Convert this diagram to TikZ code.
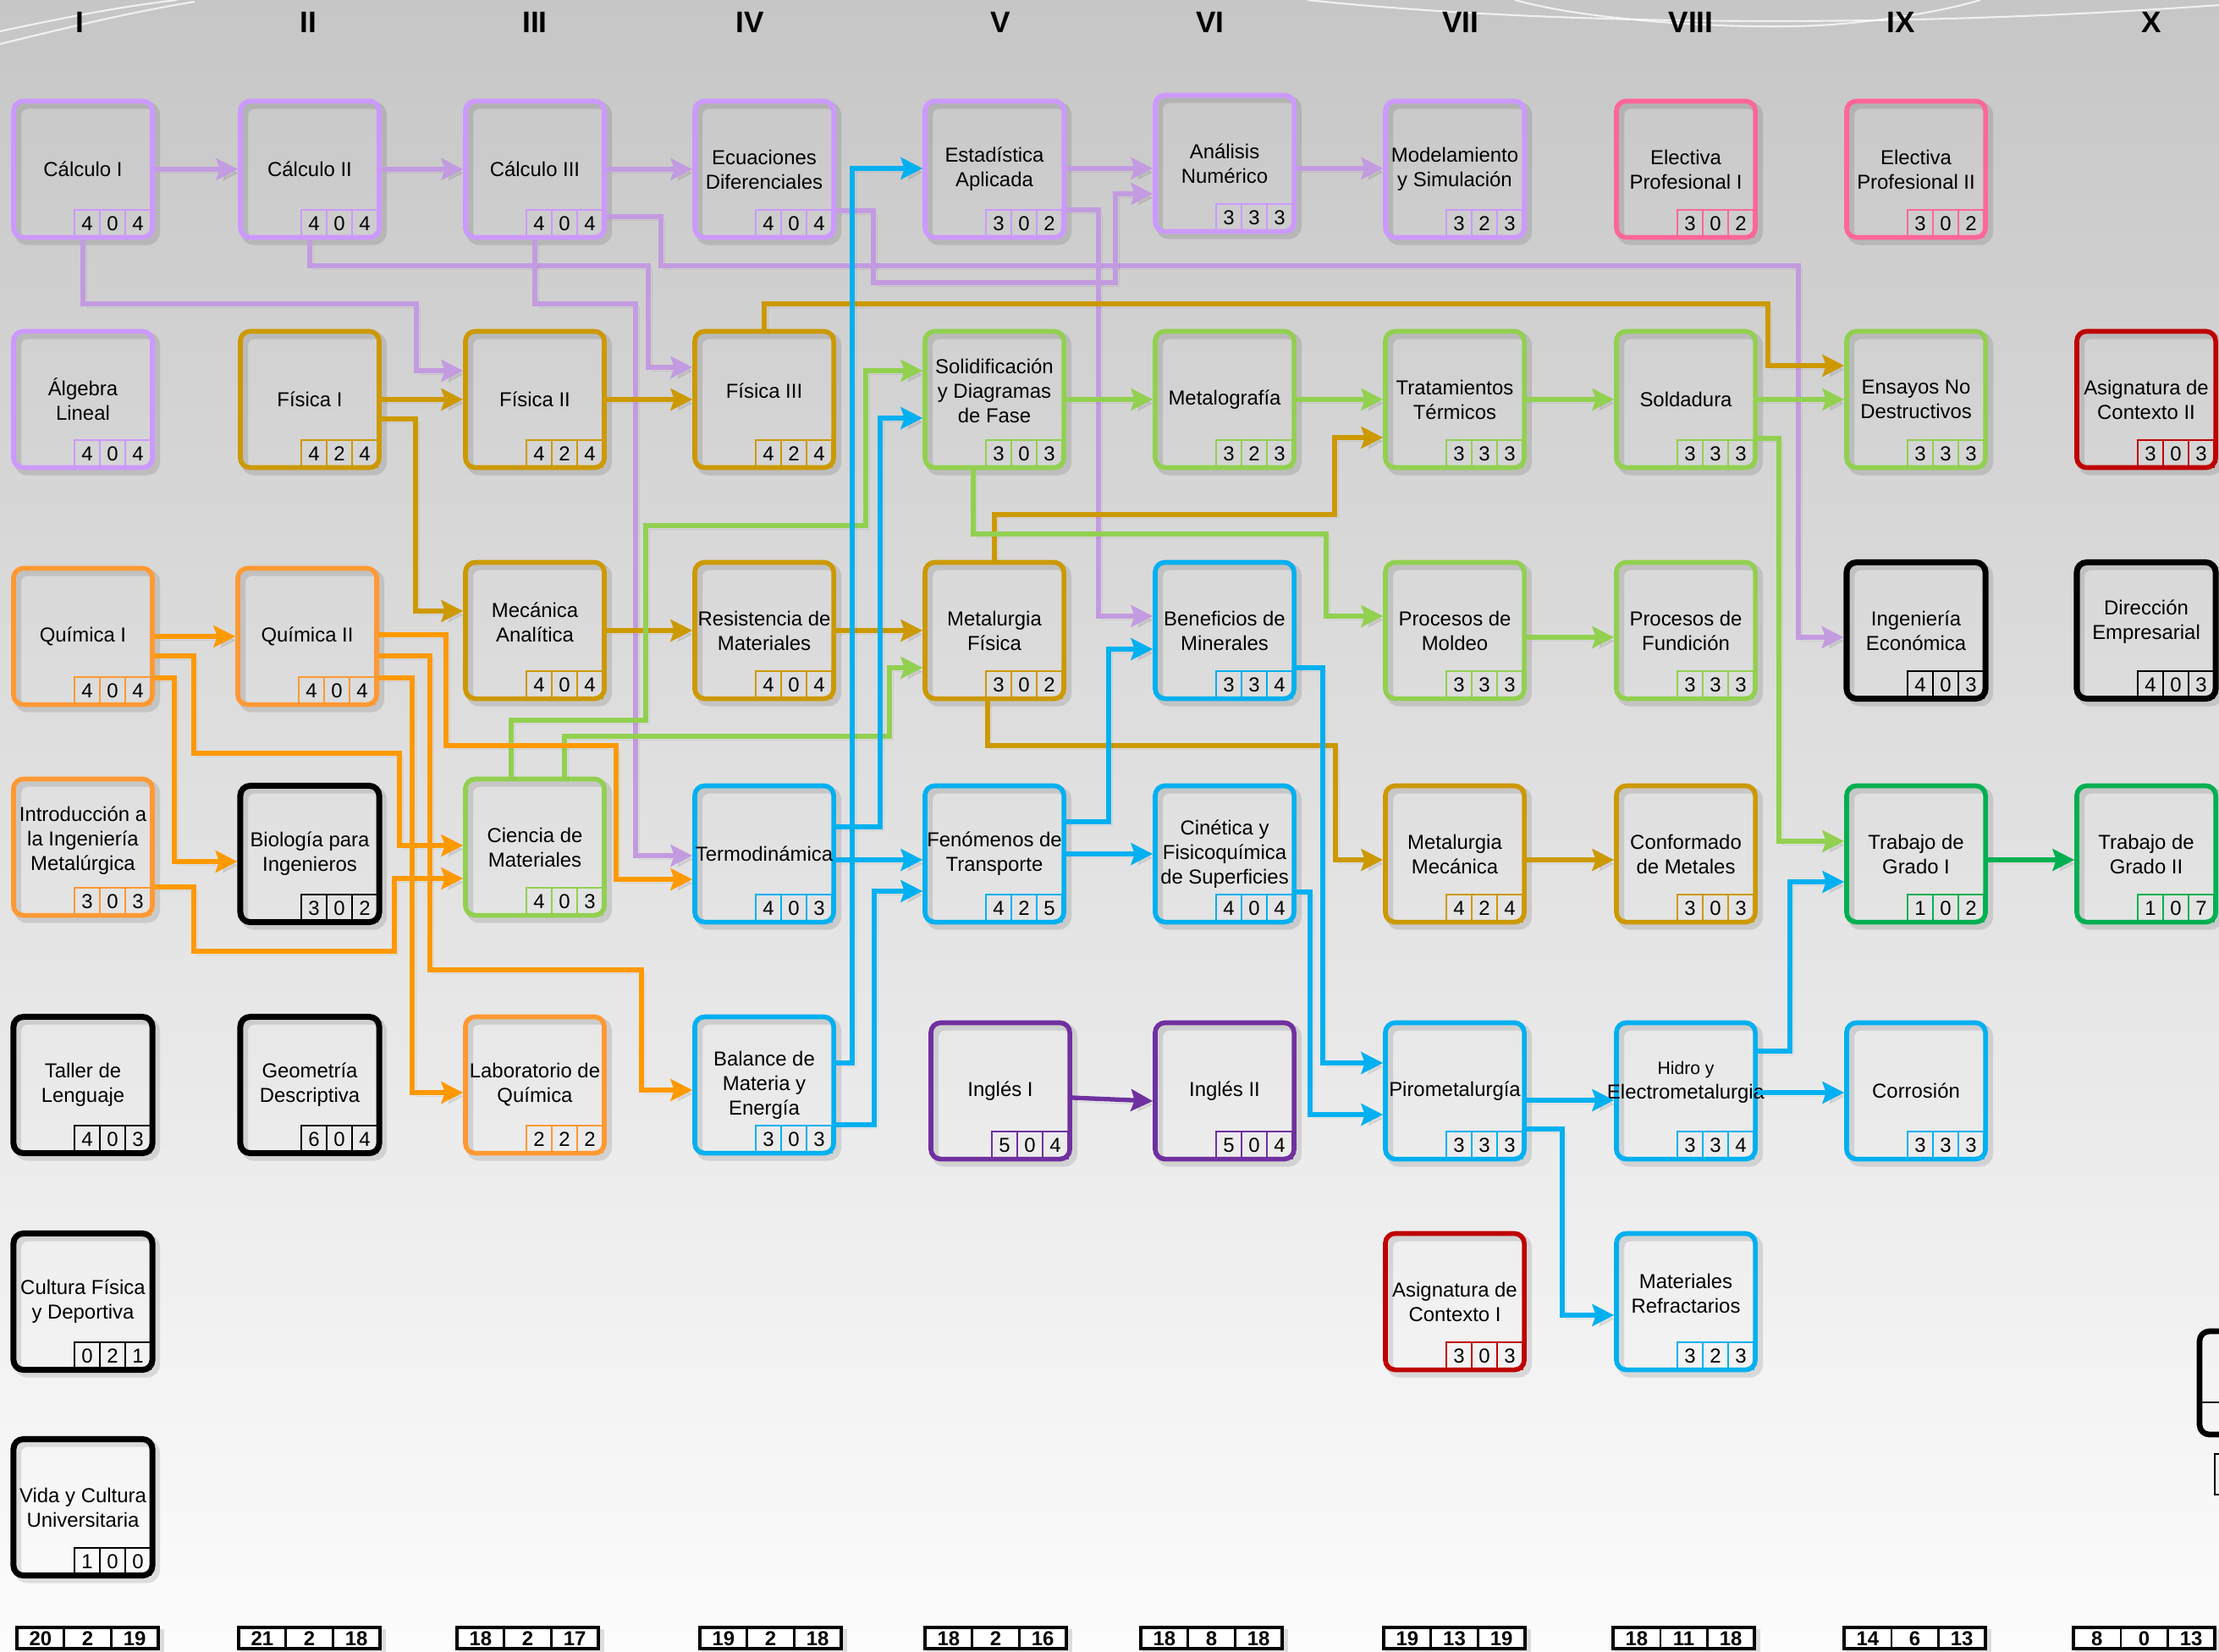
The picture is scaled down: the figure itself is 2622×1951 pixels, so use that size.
\documentclass[tikz,border=0pt]{standalone}
\usepackage{fontspec}
\setmainfont{Liberation Sans}
\usetikzlibrary{arrows.meta}
\definecolor{bgtop}{HTML}{C6C6C6}
\definecolor{bgbot}{HTML}{FCFCFC}
\definecolor{boxpur}{HTML}{CC99FF}
\definecolor{lnpur}{HTML}{C39BE0}
\definecolor{gold}{HTML}{CC9900}
\definecolor{boxora}{HTML}{FF9933}
\definecolor{lnora}{HTML}{FF9900}
\definecolor{lgreen}{HTML}{92D050}
\definecolor{cyanb}{HTML}{00B0F0}
\definecolor{dgreen}{HTML}{00B050}
\definecolor{dpurple}{HTML}{7030A0}
\definecolor{redb}{HTML}{C00000}
\definecolor{pinkb}{HTML}{FF6699}
\definecolor{blk}{HTML}{000000}
\newcommand\boxfont{\fontsize{6.8}{8.25}\selectfont}
\newcommand\hidrofont{\fontsize{6.0}{7.5}\selectfont}
\tikzset{
  box/.style={draw=#1, line width=1.6pt, rounded corners=3.3pt,
    minimum width=1.64cm, minimum height=1.61cm, inner sep=0pt,
    preaction={draw=black, draw opacity=0.11, line width=2.4pt,
      transform canvas={shift={(1.4pt,-1.4pt)}}},
    extra #1/.try},
  extra blk/.style={line width=2pt},
  btext/.style={align=center, font=\boxfont, inner sep=0pt, text=black},
  cellline/.style={draw=#1, line width=0.45pt, cellextra #1/.try},
  cellextra blk/.style={line width=0.7pt},
  celltext/.style={font=\boxfont, inner sep=0pt, text=black},
  ar/.style={line width=1.5pt, -{Stealth[length=7.3pt,width=7.3pt,inset=1.2pt]},
    preaction={draw=black, opacity=0.07, transform canvas={shift={(1.3pt,-1.3pt)}}}},
  lpu/.style={ar, draw=lnpur},
  lgo/.style={ar, draw=gold},
  lgr/.style={ar, draw=lgreen},
  lor/.style={ar, draw=lnora},
  lcy/.style={ar, draw=cyanb},
  ldg/.style={ar, draw=dgreen},
  ldp/.style={ar, draw=dpurple},
  hdr/.style={font=\fontsize{10}{12}\selectfont\bfseries, inner sep=0pt},
  tottext/.style={font=\fontsize{6.8}{8}\selectfont\bfseries, inner sep=0pt},
  deco/.style={draw=white, line width=0.6pt, draw opacity=0.75},
}
% #1 text yshift, #2 name, #3 cx, #4 cy, #5 colour, #6 text, #7-#9 numbers
\newcommand\course[9][0pt]{%
  \node[box=#5] (#2) at (#3,#4) {};
  \node[btext] (#2t) at ([yshift=#1]#2.center) {#6};
  \foreach \v [count=\i] in {#7,#8,#9}{%
    \draw[cellline=#5] ({#3-40+30*\i},{#4+48}) rectangle ({#3-10+30*\i},{#4+80});
    \node[celltext] (#2c\i) at ({#3-25+30*\i},{#4+64}) {\v};
  }%
}
\begin{document}
\begin{tikzpicture}[x=0.01cm, y=-0.01cm]
\useasboundingbox (0,0) rectangle (2622,1951);
\clip (0,0) rectangle (2622,1951);
\shade[top color=bgtop, bottom color=bgbot] (0,0) rectangle (2622,1951);
% decorative curves
\draw[deco] (0,37) .. controls (70,22) and (140,8) .. (209,0);
\draw[deco] (0,52) .. controls (70,35) and (150,15) .. (230,2);
\draw[deco] (1545,0) .. controls (1750,22) and (2150,40) .. (2622,6);
\draw[deco] (1790,0) .. controls (1880,25) and (2050,35) .. (2150,30);
\draw[deco] (2150,30) .. controls (2230,25) and (2300,12) .. (2340,0);
% headers
\node[hdr] (h1) at (94,26) {I};
\node[hdr] (h2) at (364,26) {II};
\node[hdr] (h3) at (632,26) {III};
\node[hdr] (h4) at (886,26) {IV};
\node[hdr] (h5) at (1182,26) {V};
\node[hdr] (h6) at (1430,26) {VI};
\node[hdr] (h7) at (1726,26) {VII};
\node[hdr] (h8) at (1998,26) {VIII};
\node[hdr] (h9) at (2246,26) {IX};
\node[hdr] (h10) at (2542,26) {X};
% row 1
\course{calc1}{98}{200}{boxpur}{Cálculo I}{4}{0}{4}
\course{calc2}{366}{200}{boxpur}{Cálculo II}{4}{0}{4}
\course{calc3}{632}{200}{boxpur}{Cálculo III}{4}{0}{4}
\course{ecua}{903}{200}{boxpur}{Ecuaciones\\Diferenciales}{4}{0}{4}
\course{estad}{1175}{200}{boxpur}{Estadística\\Aplicada}{3}{0}{2}
\course{anal}{1447}{193}{boxpur}{Análisis\\Numérico}{3}{3}{3}
\course{model}{1719}{200}{boxpur}{Modelamiento\\y Simulación}{3}{2}{3}
\course{elec1}{1992}{200}{pinkb}{Electiva\\Profesional I}{3}{0}{2}
\course{elec2}{2264}{200}{pinkb}{Electiva\\Profesional II}{3}{0}{2}
% row 2
\course{alg}{98}{472}{boxpur}{Álgebra\\Lineal}{4}{0}{4}
\course{fis1}{366}{472}{gold}{Física I}{4}{2}{4}
\course{fis2}{632}{472}{gold}{Física II}{4}{2}{4}
\course[2.8pt]{fis3}{903}{472}{gold}{Física III}{4}{2}{4}
\course[2.8pt]{solid}{1175}{472}{lgreen}{Solidificación\\y Diagramas\\de Fase}{3}{0}{3}
\course{metalog}{1447}{472}{lgreen}{Metalografía}{3}{2}{3}
\course{trat}{1719}{472}{lgreen}{Tratamientos\\Térmicos}{3}{3}{3}
\course{sold}{1992}{472}{lgreen}{Soldadura}{3}{3}{3}
\course{ensayos}{2264}{472}{lgreen}{Ensayos No\\Destructivos}{3}{3}{3}
\course{asig2}{2536}{472}{redb}{Asignatura de\\Contexto II}{3}{0}{3}
% row 3
\course{quim1}{98}{752}{boxora}{Química I}{4}{0}{4}
\course{quim2}{363}{752}{boxora}{Química II}{4}{0}{4}
\course[2.8pt]{mecan}{632}{745}{gold}{Mecánica\\Analítica}{4}{0}{4}
\course{resist}{903}{745}{gold}{Resistencia de\\Materiales}{4}{0}{4}
\course{metfis}{1175}{745}{gold}{Metalurgia\\Física}{3}{0}{2}
\course{benef}{1447}{745}{cyanb}{Beneficios de\\Minerales}{3}{3}{4}
\course{moldeo}{1719}{745}{lgreen}{Procesos de\\Moldeo}{3}{3}{3}
\course{fundic}{1992}{745}{lgreen}{Procesos de\\Fundición}{3}{3}{3}
\course{ingeco}{2264}{745}{blk}{Ingeniería\\Económica}{4}{0}{3}
\course[2.8pt]{direc}{2536}{745}{blk}{Dirección\\Empresarial}{4}{0}{3}
% row 4
\course[2.3pt]{intro}{98}{1001}{boxora}{Introducción a\\la Ingeniería\\Metalúrgica}{3}{0}{3}
\course{bio}{366}{1009}{blk}{Biología para\\Ingenieros}{3}{0}{2}
\course{ciencia}{632}{1001}{lgreen}{Ciencia de\\Materiales}{4}{0}{3}
\course{termo}{903}{1009}{cyanb}{Termodinámica}{4}{0}{3}
\course{fenom}{1175}{1009}{cyanb}{Fenómenos de\\Transporte}{4}{2}{5}
\course{cinet}{1447}{1009}{cyanb}{Cinética y\\Fisicoquímica\\de Superficies}{4}{0}{4}
\course{metmec}{1719}{1009}{gold}{Metalurgia\\Mecánica}{4}{2}{4}
\course{conform}{1992}{1009}{gold}{Conformado\\de Metales}{3}{0}{3}
\course{tg1}{2264}{1009}{dgreen}{Trabajo de\\Grado I}{1}{0}{2}
\course{tg2}{2536}{1009}{dgreen}{Trabajo de\\Grado II}{1}{0}{7}
% row 5
\course{taller}{98}{1282}{blk}{Taller de\\Lenguaje}{4}{0}{3}
\course{geom}{366}{1282}{blk}{Geometría\\Descriptiva}{6}{0}{4}
\course{lab}{632}{1282}{boxora}{Laboratorio de\\Química}{2}{2}{2}
\course{balance}{903}{1282}{cyanb}{Balance de\\Materia y\\Energía}{3}{0}{3}
\course{ing1}{1182}{1289}{dpurple}{Inglés I}{5}{0}{4}
\course{ing2}{1447}{1289}{dpurple}{Inglés II}{5}{0}{4}
\course{piro}{1719}{1289}{cyanb}{Pirometalurgía}{3}{3}{3}
\course[2.8pt]{hidro}{1992}{1289}{cyanb}{\hidrofont Hidro y\\Electrometalurgia}{3}{3}{4}
\course{corros}{2264}{1289}{cyanb}{Corrosión}{3}{3}{3}
% row 6, 7
\course{cultura}{98}{1538}{blk}{Cultura Física\\y Deportiva}{0}{2}{1}
\course{asig1}{1719}{1538}{redb}{Asignatura de\\Contexto I}{3}{0}{3}
\course[2.8pt]{refract}{1992}{1538}{cyanb}{Materiales\\Refractarios}{3}{2}{3}
\course{vida}{98}{1781}{blk}{Vida y Cultura\\Universitaria}{1}{0}{0}
% partial legend at the right edge
\draw[line width=1.9pt, rounded corners=3.3pt] (2599,1573) rectangle (2780,1695);
\draw[line width=0.5pt] (2599,1657) -- (2780,1657);
\draw[line width=0.8pt] (2617,1718) rectangle (2700,1766);
% ---------- purple connectors
\draw[lpu] (calc1) -- (calc2);
\draw[lpu] (calc2) -- (calc3);
\draw[lpu] (calc3) -- (ecua);
\draw[lpu] (calc1.south) |- (492,359) |- (fis2.west |- 0,438);
\draw[lpu] (calc2.south) |- (766,314) |- (fis3.west |- 0,434);
\draw[lpu] (calc3.east |- 0,256) -| (781,314) -| (2125,753) -- (ingeco.west |- 0,753);
\draw[lpu] (calc3.south) |- (751,359) |- (termo.west |- 0,1011);
\draw[lpu] (ecua.east |- 0,249) -| (1032,334) -| (1318,229) -- (anal.west |- 0,229);
\draw[lpu] (estad.east |- 0,199) -- (anal.west |- 0,199);
\draw[lpu] (estad.east |- 0,248) -| (1298,728) -- (benef.west |- 0,728);
\draw[lpu] (anal.east |- 0,199) -- (model.west |- 0,199);
% ---------- gold connectors
\draw[lgo] (fis1) -- (fis2);
\draw[lgo] (fis2) -- (fis3);
\draw[lgo] (fis1.east |- 0,495) -| (491,722) -- (mecan.west |- 0,722);
\draw[lgo] (mecan) -- (resist);
\draw[lgo] (resist) -- (metfis);
\draw[lgo] (fis3.north) |- (2089,359) |- (ensayos.west |- 0,432);
\draw[lgo] (metfis.north) |- (1577,608) |- (trat.west |- 0,517);
\draw[lgo] (metfis.south -| 1167,0) |- (1578,881) |- (metmec.west |- 0,1016);
\draw[lgo] (metmec.east |- 0,1016) -- (conform.west |- 0,1016);
% ---------- green connectors
\draw[lgr] (solid) -- (metalog);
\draw[lgr] (metalog) -- (trat);
\draw[lgr] (trat) -- (sold);
\draw[lgr] (sold) -- (ensayos);
\draw[lgr] (sold.east |- 0,518) -| (2102,994) -- (tg1.west |- 0,994);
\draw[lgr] (solid.south -| 1150,0) |- (1567,631) |- (moldeo.west |- 0,728);
\draw[lgr] (moldeo.east |- 0,753) -- (fundic.west |- 0,753);
\draw[lgr] (ciencia.north -| 604,0) |- (763,851) |- (1023,621) |- (solid.west |- 0,438);
\draw[lgr] (ciencia.north -| 667,0) |- (1051,870) |- (metfis.west |- 0,789);
% ---------- orange connectors
\draw[lor] (quim1) -- (quim2);
\draw[lor] (quim1.east |- 0,775) -| (229,890) -| (472,999) -- (ciencia.west |- 0,999);
\draw[lor] (quim1.east |- 0,801) -| (206,1018) -- (bio.west |- 0,1018);
\draw[lor] (intro.east |- 0,1048) -| (229,1124) -| (466,1038) -- (ciencia.west |- 0,1038);
\draw[lor] (quim2.east |- 0,750) -| (527,881) -| (728,1039) -- (termo.west |- 0,1039);
\draw[lor] (quim2.east |- 0,775) -| (508,1146) -| (758,1288) -- (balance.west |- 0,1288);
\draw[lor] (quim2.east |- 0,801) -| (487,1291) -- (lab.west |- 0,1291);
% ---------- cyan connectors
\draw[lcy] (balance.east |- 0,1256) -| (1007,199) -- (estad.west |- 0,199);
\draw[lcy] (termo.east |- 0,977) -| (1040,494) -- (solid.west |- 0,494);
\draw[lcy] (termo.east |- 0,1016) -- (fenom.west |- 0,1016);
\draw[lcy] (balance.east |- 0,1329) -| (1033,1053) -- (fenom.west |- 0,1053);
\draw[lcy] (fenom.east |- 0,1009) -- (cinet.west |- 0,1009);
\draw[lcy] (fenom.east |- 0,971) -| (1310,767) -- (benef.west |- 0,767);
\draw[lcy] (benef.east |- 0,789) -| (1563,1256) -- (piro.west |- 0,1256);
\draw[lcy] (cinet.east |- 0,1054) -| (1548,1317) -- (piro.west |- 0,1317);
\draw[lcy] (piro.east |- 0,1300) -- (hidro.west |- 0,1300);
\draw[lcy] (piro.east |- 0,1334) -| (1846,1554) -- (refract.west |- 0,1554);
\draw[lcy] (hidro.east |- 0,1291) -- (corros.west |- 0,1291);
\draw[lcy] (hidro.east |- 0,1242) -| (2115,1042) -- (tg1.west |- 0,1042);
% ---------- others
\draw[ldg] (tg1.east |- 0,1016) -- (tg2.west |- 0,1016);
\draw[ldp] (ing1.east |- 0,1297) -- (ing2.west |- 0,1301);
% ---------- totals
\foreach \xx/\a/\b/\c [count=\k] in {20/20/2/19, 282/21/2/18, 540/18/2/17, 827/19/2/18, 1093/18/2/16, 1348/18/8/18, 1635/19/13/19, 1906/18/11/18, 2179/14/6/13, 2450/8/0/13}{
  \draw[line width=0.9pt, fill=white,
    preaction={draw=black, draw opacity=0.12, line width=1.5pt, transform canvas={shift={(1.2pt,-1.2pt)}}}]
    (\xx,1923) rectangle ({\xx+167},1948);
  \draw[line width=0.7pt] ({\xx+55.7},1923) -- ({\xx+55.7},1948);
  \draw[line width=0.7pt] ({\xx+111.3},1923) -- ({\xx+111.3},1948);
  \node[tottext] (tota\k) at ({\xx+27.8},1936) {\a};
  \node[tottext] (totb\k) at ({\xx+83.5},1936) {\b};
  \node[tottext] (totc\k) at ({\xx+139.2},1936) {\c};
}
\end{tikzpicture}
\end{document}
